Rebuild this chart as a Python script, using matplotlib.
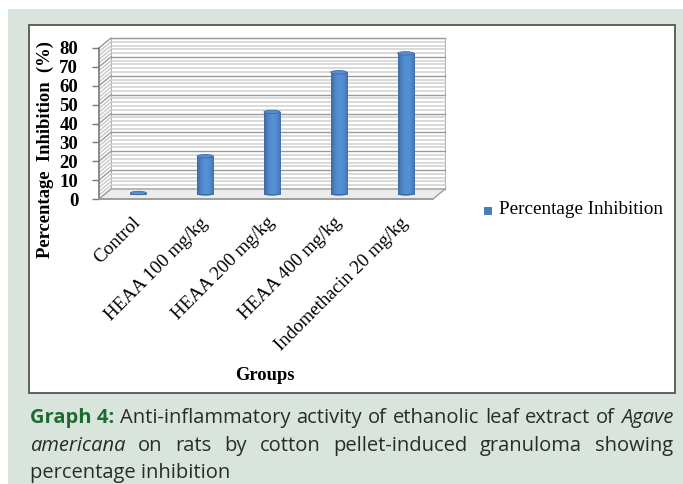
import matplotlib
matplotlib.use("Agg")
import matplotlib.pyplot as plt
import numpy as np
from matplotlib.patches import Rectangle, Polygon, Ellipse
from matplotlib.transforms import offset_copy

categories = ["Control", "HEAA 100 mg/kg", "HEAA 200 mg/kg", "HEAA 400 mg/kg", "Indomethacin 20 mg/kg"]
values = [0.5, 20, 43.5, 64.5, 74.5]
yticks = [0, 10, 20, 30, 40, 50, 60, 70, 80]
series_name = "Percentage Inhibition"
ylabel = "Percentage  Inhibition  (%)"
xlabel = "Groups"

W, H = 683, 484
fig = plt.figure(figsize=(W / 100, H / 100), dpi=100)
fig.patch.set_facecolor("white")

# green panel and white box
fig.patches.append(Rectangle((8 / W, 0), 1 - 8 / W, 1 - 9 / H, transform=fig.transFigure,
                             facecolor="#d9e5dc", edgecolor="none", zorder=-10))
fig.patches.append(Rectangle((29 / W, 1 - 393 / H), (675 - 29) / W, (393 - 25) / H,
                             transform=fig.transFigure, facecolor="white",
                             edgecolor="#555555", linewidth=1.3, zorder=-9))

ax = fig.add_axes([99 / W, 1 - 199 / H, (433 - 99) / W, (199 - 48) / H])
ax.set_zorder(5)
ax.set_facecolor("none")
ax.set_xlim(-0.5, 4.5)
ax.set_ylim(0, 80)
for s in ax.spines.values():
    s.set_visible(False)

DX, DY = 12, 10
back = offset_copy(ax.transData, fig=fig, x=DX, y=DY, units="dots")
mid = offset_copy(ax.transData, fig=fig, x=DX / 2, y=DY / 2, units="dots")

x0, x1 = -0.5, 4.5
# back wall
ax.add_patch(Rectangle((x0, 0), x1 - x0, 80, transform=back, facecolor="white",
                       edgecolor="#b0b0b0", lw=0.8, zorder=1, clip_on=False))
minor = np.arange(0, 81, 2)
for yv in minor:
    major = (yv % 10 == 0)
    col = "#9a9a9a" if major else "#cfcfcf"
    lw = 1.0 if major else 1.1
    ax.plot([x0, x1], [yv, yv], transform=back, color=col, lw=lw, zorder=1.2, clip_on=False)

# left side wall connectors
for yv in minor:
    major = (yv % 10 == 0)
    ax.annotate("", xy=(x0, yv), xycoords=back, xytext=(x0, yv), textcoords=ax.transData,
                arrowprops=dict(arrowstyle="-", color="#9a9a9a" if major else "#c8c8c8", lw=1.0,
                                shrinkA=0, shrinkB=0), zorder=1.3, annotation_clip=False)

fig.canvas.draw()
inv = ax.transData.inverted()
f0 = ax.transData.transform((x0, 0))
f1 = ax.transData.transform((x1, 0))
off = np.array([DX, DY])
floor_pts = [inv.transform(p) for p in [f0, f1, f1 + off, f0 + off]]
ax.add_patch(Polygon(floor_pts, closed=True, facecolor="#ececec", edgecolor="#a0a0a0",
                     lw=1.0, zorder=1.4, clip_on=False))

# front axis lines
ax.plot([x0, x0], [0, 80], color="#7a7a7a", lw=1.2, zorder=3, clip_on=False)
ax.plot([x0, x1], [0, 0], color="#9a9a9a", lw=1.2, zorder=3, clip_on=False)

# bars (cylinders)
xpos = np.arange(len(categories))
bw = 0.24
bars = ax.bar(xpos, values, width=bw, color="#4a7ebb", transform=mid, zorder=4, clip_on=False,
              edgecolor="#3a6aa5", linewidth=0.6)
grad = np.linspace(0, 1, 64)
shade = np.sin(np.pi * (0.1 + 0.75 * grad))
img = np.zeros((1, 64, 3))
base = np.array([0x4a, 0x7e, 0xbb]) / 255
for i, s in enumerate(shade):
    img[0, i] = np.clip(base * (0.7 + 0.45 * s), 0, 1)
for b, xv, v in zip(bars, xpos, values):
    if v > 1.5:
        ax.add_patch(Ellipse((xv, 0), bw, 1.8, transform=mid, facecolor="#3f70aa",
                             edgecolor="none", zorder=3.9, clip_on=False))
        im = ax.imshow(img, extent=(xv - bw / 2, xv + bw / 2, 0, v), aspect="auto",
                       transform=mid, zorder=4.5, interpolation="bilinear")
        im.set_clip_path(b)
    ax.add_patch(Ellipse((xv, v), bw, 1.8, transform=mid, facecolor="#5a8fcf",
                         edgecolor="#3a6aa5", lw=0.6, zorder=5, clip_on=False))

ax.set_xlim(-0.5, 4.5)
ax.set_ylim(0, 80)
ax.set_aspect("auto")

serif = ["Liberation Serif", "DejaVu Serif"]
ax.set_yticks(yticks)
ax.set_yticklabels([str(t) for t in yticks], fontfamily=serif, fontsize=13.5, fontweight="bold")
ax.tick_params(axis="y", length=5, width=1, color="#7a7a7a", pad=10)
ax.set_xticks(xpos)
ax.set_xticklabels(categories, rotation=45, ha="right", va="top", rotation_mode="anchor",
                   fontfamily=serif, fontsize=13.6)
ax.tick_params(axis="x", length=0, pad=11)

fig.text(45 / W, 1 - 150 / H, ylabel, rotation=90, ha="center", va="center",
         fontfamily=serif, fontsize=13.4, fontweight="bold")
fig.text(265 / W, 1 - 375 / H, xlabel, ha="center", va="center",
         fontfamily=serif, fontsize=13.3, fontweight="bold")

# legend
fig.patches.append(Rectangle((484 / W, 1 - 215 / H), 8 / W, 8 / H, transform=fig.transFigure,
                             facecolor="#4a7ebb", edgecolor="none", zorder=2))
fig.text(499 / W, 1 - 210 / H, series_name, ha="left", va="center", fontfamily=serif, fontsize=13.8)

# caption, justified
cap_font = ["Liberation Sans Narrow", "Open Sans", "DejaVu Sans"]
N = ("normal", "normal", "#2a2a2a")
I = ("normal", "italic", "#2a2a2a")
lines = [
    [("Graph 4:", "bold", "normal", "#1e6b30")] + [(w,) + N for w in
     ["Anti-inflammatory", "activity", "of", "ethanolic", "leaf", "extract", "of"]] + [("Agave",) + I],
    [("americana",) + I] + [(w,) + N for w in
     ["on", "rats", "by", "cotton", "pellet-induced", "granuloma", "showing"]],
    [("percentage inhibition",) + N],
]
ys = [418, 446, 473]
left, right = 30, 673
r = fig.canvas.get_renderer()
for words, yy in zip(lines, ys):
    texts = []
    for w, wt, st, c in words:
        t = fig.text(0, 1 - yy / H, w, fontfamily=cap_font, fontsize=14.5, fontweight=wt,
                     fontstyle=st, color=c, ha="left", va="center")
        texts.append(t)
    widths = [t.get_window_extent(r).width for t in texts]
    if len(texts) == 1:
        texts[0].set_x(left / W)
        continue
    gap = (right - left - sum(widths)) / (len(texts) - 1)
    x = left
    for t, wd in zip(texts, widths):
        t.set_x(x / W)
        x += wd + gap

fig.savefig("out.png", dpi=100, facecolor=fig.get_facecolor())
